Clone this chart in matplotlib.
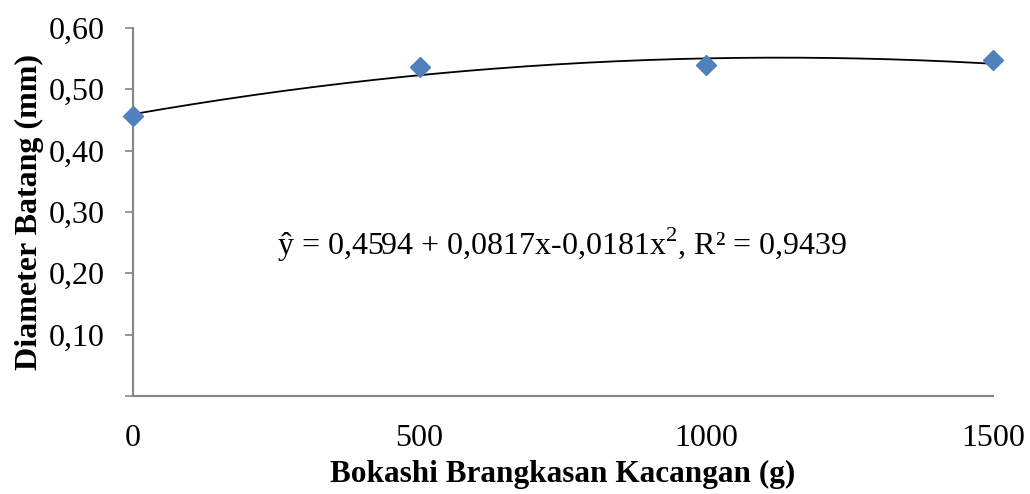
import numpy as np
import matplotlib.pyplot as plt

# data
dosis = [0, 500, 1000, 1500]
diameter = [0.456, 0.536, 0.540, 0.547]
koef = [0.4594, 0.0817, -0.0181]  # trendline, x = taraf (0,1,2,3)
yticks = [0.0, 0.1, 0.2, 0.3, 0.4, 0.5, 0.6]

plt.rcParams['font.family'] = ['Liberation Serif', 'DejaVu Serif']
plt.rcParams['mathtext.fontset'] = 'custom'
plt.rcParams['mathtext.rm'] = 'Liberation Serif'

fig = plt.figure(figsize=(10.3, 4.94), dpi=100)
ax = fig.add_axes([0.129, 0.1984, 0.835, 0.745])

xs = np.linspace(0, 1500, 200)
t = xs / 500
ax.plot(xs, koef[0] + koef[1] * t + koef[2] * t ** 2, color='black', lw=1.3, zorder=2)
ax.plot(dosis, diameter, 'D', color='#4F81BD', ms=10, zorder=3, clip_on=False)

ax.set_xlim(0, 1500)
ax.set_ylim(0, 0.6)
ax.set_xticks(dosis)
ax.set_yticks(yticks)
# label 0,00 tidak ditampilkan
ax.set_yticklabels([f"{v:.2f}".replace('.', ',') if v > 0 else '' for v in yticks])
ax.tick_params(axis='both', labelsize=23, colors='#868686', labelcolor='black')
ax.tick_params(axis='y', length=6, width=1.2, pad=14)
ax.tick_params(axis='x', length=0, pad=20)

for s in ['top', 'right']:
    ax.spines[s].set_visible(False)
for s in ['left', 'bottom']:
    ax.spines[s].set_color('#868686')
    ax.spines[s].set_linewidth(1.5)

ax.set_xlabel('Bokashi Brangkasan Kacangan (g)', fontsize=22.5, fontweight='bold', labelpad=5)
ax.set_ylabel('Diameter Batang (mm)', fontsize=23, fontweight='bold', labelpad=4)

ax.text(251, 0.247, r'ŷ = 0,4594 + 0,0817x-0,0181x$^{\mathrm{2}}$, R² = 0,9439',
        fontsize=23, va='center', ha='left')

fig.savefig('out.png', dpi=100)
